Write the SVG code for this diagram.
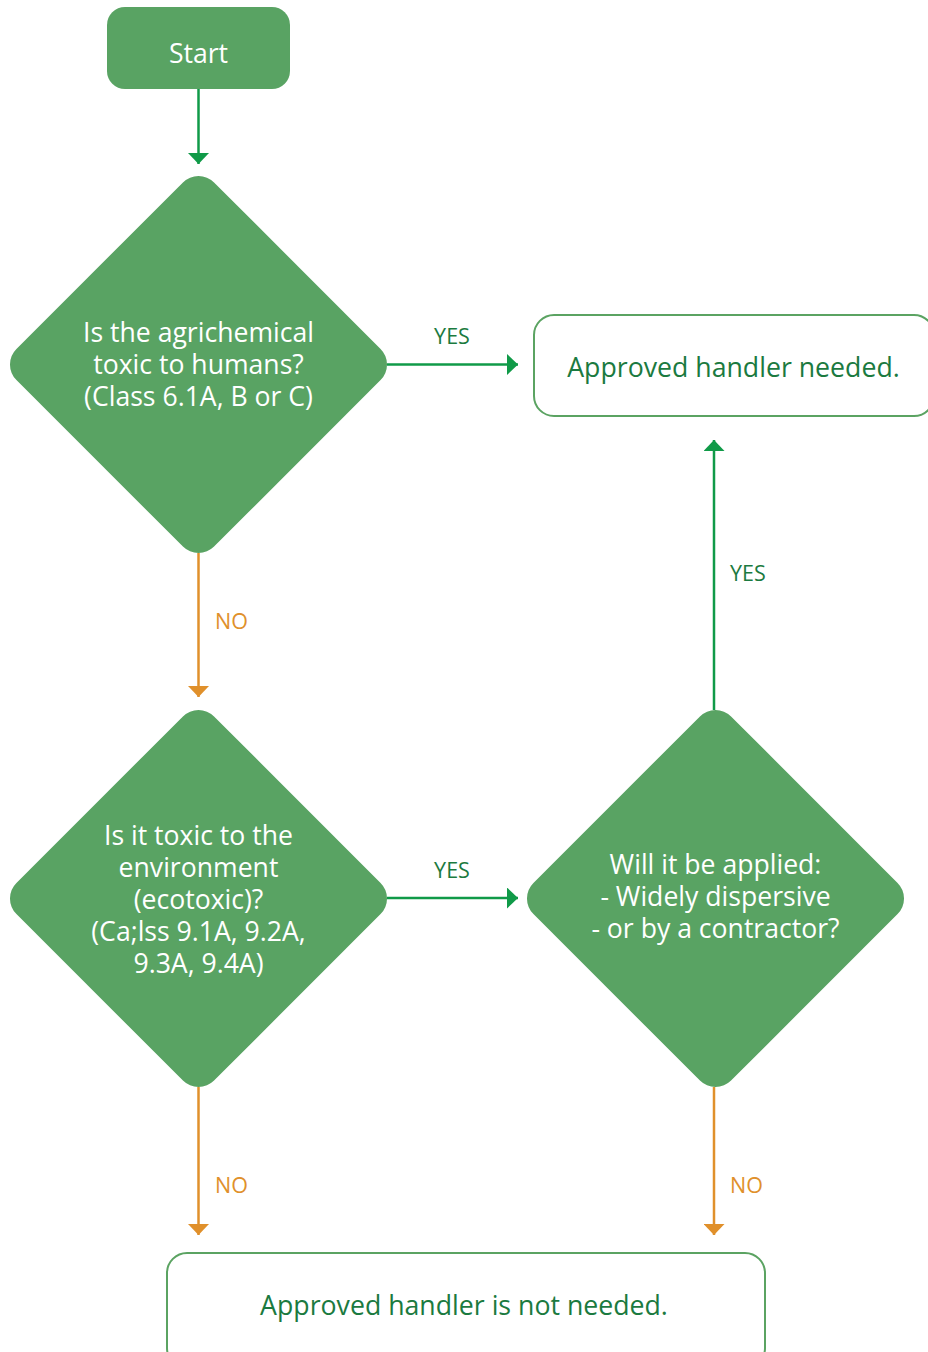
<svg xmlns="http://www.w3.org/2000/svg" width="928" height="1352" viewBox="0 0 928 1352">
<style>
text{font-family:"Open Sans","Noto Sans","Liberation Sans",sans-serif;text-anchor:middle}
.fill{fill:#59A363}
.wt{fill:#ffffff;font-size:26.6px}
.box{fill:#ffffff;stroke:#5BA362;stroke-width:2}
.bt{fill:#1B7A40;font-size:26.7px}
.g{stroke:#109A48;stroke-width:2.5;fill:none}
.o{stroke:#E0902B;stroke-width:2.5;fill:none}
.yes{fill:#1B7A40;font-size:21.5px}
.no{fill:#E0902B;font-size:21.5px;text-anchor:start}
</style>
<defs>
<marker id="ag" viewBox="0 0 11 21" markerWidth="11" markerHeight="21" refX="11" refY="10.5" orient="auto" markerUnits="userSpaceOnUse"><path d="M0,0 L11,10.5 L0,21 Z" fill="#109A48"/></marker>
<marker id="ao" viewBox="0 0 11 21" markerWidth="11" markerHeight="21" refX="11" refY="10.5" orient="auto" markerUnits="userSpaceOnUse"><path d="M0,0 L11,10.5 L0,21 Z" fill="#E0902B"/></marker>
</defs>
<g id="connectors">
<line class="g" x1="198.5" y1="89" x2="198.5" y2="164" marker-end="url(#ag)"/>
<line class="g" x1="387" y1="364.5" x2="518" y2="364.5" marker-end="url(#ag)"/>
<line class="o" x1="198.5" y1="553" x2="198.5" y2="697" marker-end="url(#ao)"/>
<line class="g" x1="387" y1="898" x2="518" y2="898" marker-end="url(#ag)"/>
<line class="g" x1="714" y1="710" x2="714" y2="440" marker-end="url(#ag)"/>
<line class="o" x1="198.5" y1="1087" x2="198.5" y2="1235" marker-end="url(#ao)"/>
<line class="o" x1="714" y1="1087" x2="714" y2="1235" marker-end="url(#ao)"/>
<text class="yes" x="452" y="343.5">YES</text>
<text class="no" x="215" y="628.5">NO</text>
<text class="yes" x="452" y="877.5">YES</text>
<text class="yes" x="730" y="580.5" style="text-anchor:start">YES</text>
<text class="no" x="215" y="1192.5">NO</text>
<text class="no" x="730" y="1192.5">NO</text>
</g>
<g id="start">
<rect class="fill" x="107" y="7" width="183" height="82" rx="18"/>
<text class="wt" x="198.5" y="62.5">Start</text>
</g>
<g id="q1">
<rect class="fill" x="-139.75" y="-139.75" width="279.5" height="279.5" rx="22" transform="translate(198.5,364.5) rotate(45)"/>
<text class="wt" x="198.5" y="341.5">Is the agrichemical</text>
<text class="wt" x="198.5" y="373.5">toxic to humans?</text>
<text class="wt" x="198.5" y="405.5">(Class 6.1A, B or C)</text>
</g>
<g id="needed">
<rect class="box" x="534" y="315" width="400" height="101" rx="20"/>
<text class="bt" x="733.5" y="376.5">Approved handler needed.</text>
</g>
<g id="q2">
<rect class="fill" x="-139.75" y="-139.75" width="279.5" height="279.5" rx="22" transform="translate(198.5,898.5) rotate(45)"/>
<text class="wt" x="198.5" y="844.5">Is it toxic to the</text>
<text class="wt" x="198.5" y="876.5">environment</text>
<text class="wt" x="198.5" y="908.5">(ecotoxic)?</text>
<text class="wt" x="198.5" y="940.5">(Ca;lss 9.1A, 9.2A,</text>
<text class="wt" x="198.5" y="972.5">9.3A, 9.4A)</text>
</g>
<g id="q3">
<rect class="fill" x="-139.75" y="-139.75" width="279.5" height="279.5" rx="22" transform="translate(715.5,898.5) rotate(45)"/>
<text class="wt" x="715.5" y="873.5">Will it be applied:</text>
<text class="wt" x="715.5" y="905.5">- Widely dispersive</text>
<text class="wt" x="715.5" y="937.5">- or by a contractor?</text>
</g>
<g id="notneeded">
<rect class="box" x="167" y="1253" width="598" height="115" rx="20"/>
<text class="bt" x="464" y="1314.5">Approved handler is not needed.</text>
</g>
</svg>
